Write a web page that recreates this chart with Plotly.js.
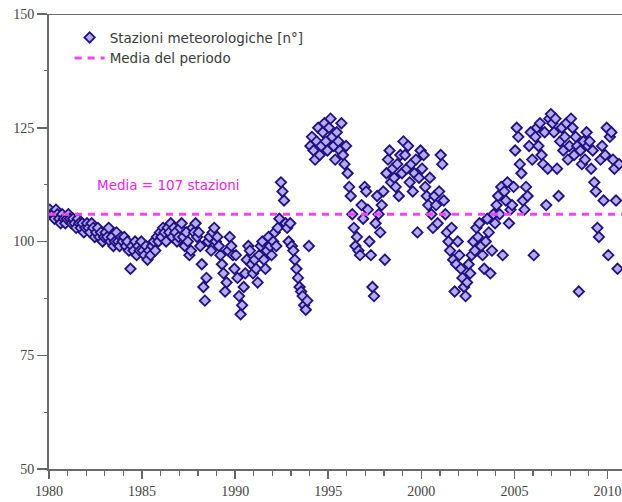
<!DOCTYPE html>
<html>
<head>
<meta charset="utf-8">
<script src="https://cdn.plot.ly/plotly-3.0.1.min.js"></script>
<style>html,body{margin:0;padding:0;background:#fff;}#chart{width:622px;height:502px;}</style>
</head>
<body>
<div id="chart"></div>
<script>
// Monthly station counts (Jan..Dec)
const startYear = 1980;
const st1980_1984 = [
  107,106,106,105,107,106,105,104,106,105,104,105,
  106,105,104,105,104,103,105,104,103,104,102,103,
  104,103,102,104,103,101,102,103,101,102,100,101,
  102,101,103,100,101,99,100,102,100,99,101,100,
  101,99,100,98,94,99,98,100,97,99,98,100
];
const st1985_1989 = [
  98,97,99,96,98,97,99,100,98,101,100,102,
  101,103,102,100,103,102,104,101,103,102,100,101,
  103,104,101,99,102,100,97,98,103,102,104,101,
  102,99,95,90,87,92,100,101,98,102,103,100,
  101,99,97,95,93,89,91,98,101,99,97,94
];
const st1990_1994 = [
  97,92,88,84,86,90,93,96,99,98,95,93,
  96,94,91,97,99,100,96,94,98,101,99,97,
  100,102,99,103,105,113,111,109,104,103,100,104,
  99,98,96,94,92,90,89,88,86,85,87,99,
  121,123,120,118,122,125,119,121,124,126,122,120
];
const st1995_1999 = [
  125,127,123,121,118,124,122,120,126,119,117,121,
  115,112,110,106,103,99,101,98,97,108,105,112,
  111,107,100,97,90,88,104,110,106,102,108,111,
  96,115,118,120,113,116,114,112,117,110,119,115,
  122,119,116,121,113,117,111,115,118,102,114,120
];
const st2000_2004 = [
  116,119,112,110,108,114,106,103,110,108,104,111,
  119,117,109,106,102,100,98,103,96,89,95,100,
  97,94,92,90,88,91,95,93,97,100,98,103,
  101,104,99,97,94,100,105,102,93,98,106,104,
  108,110,106,112,97,111,109,113,104,107,108,112
];
const st2005_2010 = [
  120,125,123,117,115,109,107,112,110,121,124,118,
  97,123,125,121,126,119,117,124,108,116,127,128,
  126,124,127,116,110,122,125,120,123,126,118,121,
  127,125,119,123,121,89,120,117,122,118,124,121,
  122,116,120,113,111,103,101,118,121,109,119,125,
  97,123,124,118,116,109,94,117
];
const meanValue = 106;
const xTickVals = [1980,1985,1990,1995,2000,2005,2010];
const yTickVals = [50,75,100,125,150];
const seriesName = "Stazioni meteorologiche [n°]";
const meanName = "Media del periodo";
const meanLabel = "Media = 107 stazioni";

const values = [].concat(st1980_1984, st1985_1989, st1990_1994, st1995_1999, st2000_2004, st2005_2010);
const xs = values.map((v, i) => startYear + (i + 0.5) / 12);
const xMax = 2010.78;

const tickFont = {family: "Liberation Serif, Times New Roman, serif", size: 14, color: "#444"};
const textFont = {family: "DejaVu Sans, sans-serif", size: 13.5, color: "#3a3a3a"};

const traces = [
  {
    type: "scatter", mode: "markers", name: seriesName,
    x: xs, y: values,
    marker: {symbol: "diamond", size: 8, color: "#b3acf2", line: {color: "#22107f", width: 1.8}}
  },
  {
    type: "scatter", mode: "lines", name: meanName,
    x: [startYear, xMax], y: [meanValue, meanValue],
    line: {color: "#f046ee", width: 3, dash: "7px,6px"}
  }
];

const layout = {
  width: 622, height: 502,
  margin: {l: 49, r: 0, t: 14, b: 33},
  paper_bgcolor: "#fff", plot_bgcolor: "#fff",
  showlegend: true,
  legend: {
    x: 0.036, y: 0.982, xanchor: "left", yanchor: "top",
    bgcolor: "rgba(0,0,0,0)",
    font: textFont,
    tracegroupgap: 0
  },
  xaxis: {
    range: [startYear, xMax],
    tickvals: xTickVals, ticktext: xTickVals.map(String),
    ticks: "outside", ticklen: 8, tickwidth: 1.5, tickcolor: "#666",
    minor: {dtick: 1, tick0: 1980, ticks: "outside", ticklen: 5, tickwidth: 1.2, tickcolor: "#666", showgrid: false},
    showgrid: false, zeroline: false,
    showline: true, linecolor: "#6a6a6a", linewidth: 2,
    tickfont: tickFont, fixedrange: true
  },
  yaxis: {
    range: [50, 150],
    tickvals: yTickVals, ticktext: yTickVals.map(String),
    ticks: "outside", ticklen: 10, tickwidth: 1.5, tickcolor: "#666",
    minor: {dtick: 12.5, tick0: 50, ticks: "outside", ticklen: 3, tickwidth: 1.2, tickcolor: "#666", showgrid: false},
    showgrid: false, zeroline: false,
    showline: true, linecolor: "#6a6a6a", linewidth: 2,
    tickfont: tickFont, fixedrange: true
  },
  shapes: [
    {type: "line", xref: "paper", yref: "y", x0: 0, x1: 1, y0: 150, y1: 150, line: {color: "#6a6a6a", width: 2}}
  ],
  annotations: [
    {
      text: meanLabel, xref: "x", yref: "y", x: 1986.4, y: 112.5,
      showarrow: false,
      font: {family: "DejaVu Sans, sans-serif", size: 13.5, color: "#ee22ee"}
    }
  ]
};

Plotly.newPlot("chart", traces, layout, {displayModeBar: false, staticPlot: true});
</script>
</body>
</html>
